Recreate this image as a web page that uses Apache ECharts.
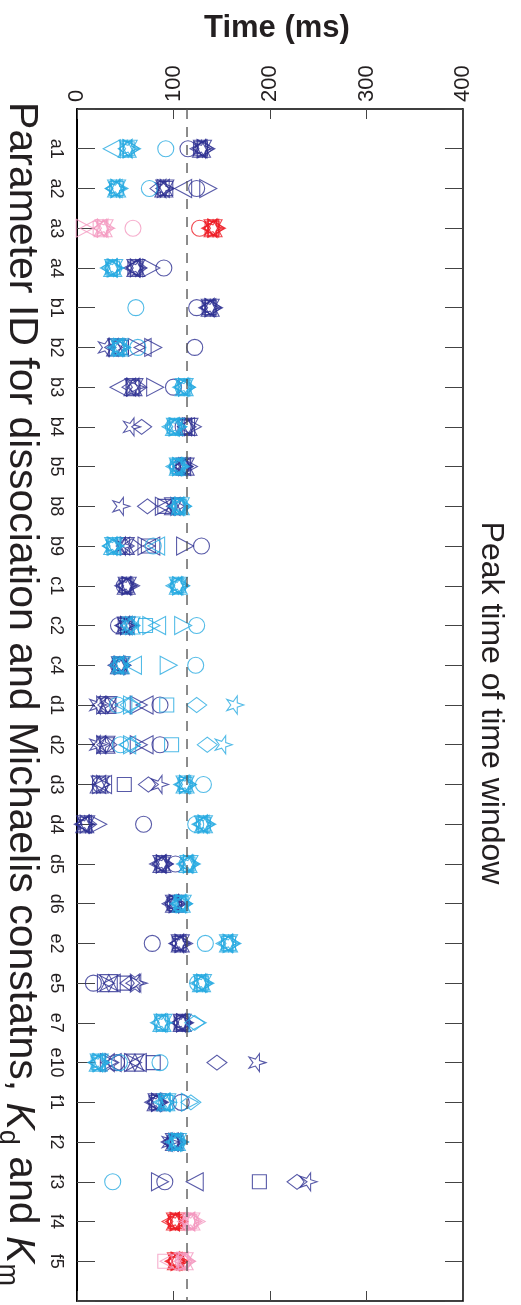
<!DOCTYPE html>
<html>
<head>
<meta charset="utf-8">
<script src="https://cdn.jsdelivr.net/npm/echarts@6/dist/echarts.min.js"></script>
<style>
  html, body { margin: 0; padding: 0; background: #fff; }
  #chart { width: 521px; height: 1305px; }
</style>
</head>
<body>
<div id="chart"></div>
<script>
// Parameter IDs, drawn top to bottom
const categories = ['a1','a2','a3','a4','b1','b2','b3','b4','b5','b8','b9','c1','c2','c4',
  'd1','d2','d3','d4','d5','d6','e2','e5','e7','e10','f1','f2','f3','f4','f5'];
const timeTicks = [0, 100, 200, 300, 400];
const thresholdMs = 114;            // reference peak time (dashed line)
const accentRows = ['a3', 'f4', 'f5'];  // rows drawn in red / pink

// Peak times (ms) per marker shape; null = no marker, list = several markers in the row
const darkCircle   = [115,124,127,90,124,122,100,110,108,104,129,49,43,43,86,86,24,69,102,100,78,17,109,41,108,100,91,102,103];
const darkSquare   = [128,92,140,60,137,46,58,112,110,91,74,51,50,44,33,31,49,8,88,101,106,49,108,79,82,101,189,102,103];
const darkDiamond  = [131,86,142,62,139,42,62,67,110,73,57,52,51,45,32,31,74,10,89,102,107,55,109,145,83,99,228,103,104];
const darkTriRight = [134,[92,136],145,77,142,[62,79],81,120,116,90,[72,112],56,54,47,64,64,25,22,91,105,111,30,112,[33,58],86,106,86,106,107];
const darkTriLeft  = [126,110,138,57,135,68,43,113,109,93,77,48,48,41,70,70,27,6,84,97,104,36,106,[37,63],79,96,122,97,100];
const darkTriUp    = [129,90,141,61,138,40,58,115,112,100,50,51,50,44,31,30,23,8,88,101,107,33,109,60,82,101,null,102,103];
const darkTriDown  = [130,91,141,61,138,41,59,116,112,100,50,52,51,45,32,30,24,9,88,101,107,33,109,60,83,101,null,102,103];
const darkStar5    = [131,90,143,63,140,31,62,57,111,46,48,53,52,46,22,22,86,10,90,103,108,64,110,187,84,97,240,104,104];
const darkStar6    = [129,91,140,60,137,38,56,114,110,102,50,51,50,44,25,25,25,8,87,100,106,60,108,34,82,100,null,101,102];

const lightCircle   = [92,75,58,38,61,63,110,100,104,107,79,105,124,123,42,45,131,123,114,107,133,125,88,[44,86],95,104,37,118,110];
const lightSquare   = [52,41,24,37,null,44,111,101,104,106,38,105,71,45,93,98,112,131,115,108,157,129,88,22,92,103,null,117,91];
const lightDiamond  = [54,40,28,36,null,45,112,103,105,108,37,106,55,44,[55,124],[55,135],113,132,116,109,158,130,122,23,118,104,null,119,112];
const lightTriRight = [57,44,8,40,null,47,114,105,108,110,40,108,[77,110],95,57,57,115,135,119,111,161,133,125,25,117,107,null,124,114];
const lightTriLeft  = [36,38,12,33,null,40,108,97,101,103,[35,82],101,83,58,48,52,109,128,112,105,153,126,85,20,88,100,null,113,95];
const lightTriUp    = [52,41,27,37,null,44,111,101,105,107,37,105,56,45,null,null,112,131,115,108,157,129,88,22,92,103,null,118,111];
const lightTriDown  = [53,41,28,38,null,44,111,102,105,107,38,105,56,46,null,null,112,131,116,109,157,130,89,23,93,104,null,118,111];
const lightStar5    = [55,42,30,39,null,45,113,104,106,108,39,106,55,46,164,152,114,133,117,110,159,131,90,24,94,105,null,120,113];
const lightStar6    = [52,40,26,37,null,43,110,100,104,106,37,104,55,44,null,null,111,130,115,108,156,129,87,22,91,103,null,117,110];

const FONT = '"Liberation Sans", Arial, Helvetica, sans-serif';
const TEXT = '#231f20';

// star outline pointing right, in a 100x100 box
function starPath(points, innerRatio) {
  const pts = [];
  for (let k = 0; k < points * 2; k++) {
    const a = k * Math.PI / points;
    const r = k % 2 === 0 ? 50 : 50 * innerRatio;
    pts.push((50 + r * Math.cos(a)).toFixed(2) + ',' + (50 + r * Math.sin(a)).toFixed(2));
  }
  return 'path://M' + pts.join('L') + 'Z';
}

const shapes = {
  circle:   { symbol: 'circle', size: 16 },
  square:   { symbol: 'rect', size: 14 },
  diamond:  { symbol: 'path://M0,50L50,0L100,50L50,100Z', size: [20, 15] },
  triRight: { symbol: 'path://M0,0L100,50L0,100Z', size: [17, 18] },
  triLeft:  { symbol: 'path://M100,0L0,50L100,100Z', size: [17, 18] },
  triUp:    { symbol: 'path://M50,0L100,100L0,100Z', size: [18, 17] },
  triDown:  { symbol: 'path://M0,0L100,0L50,100Z', size: [18, 17] },
  star5:    { symbol: starPath(5, 0.382), size: [17, 18] },
  star6:    { symbol: starPath(6, 0.55), size: [18, 18] }
};

const groups = [
  { base: '#2e3192', accent: '#ed1c24', sets: {
      circle: darkCircle, square: darkSquare, diamond: darkDiamond, triRight: darkTriRight,
      triLeft: darkTriLeft, triUp: darkTriUp, triDown: darkTriDown, star5: darkStar5, star6: darkStar6 } },
  { base: '#27aae1', accent: '#f49ac1', sets: {
      circle: lightCircle, square: lightSquare, diamond: lightDiamond, triRight: lightTriRight,
      triLeft: lightTriLeft, triUp: lightTriUp, triDown: lightTriDown, star5: lightStar5, star6: lightStar6 } }
];

const series = [];
groups.forEach(g => {
  Object.keys(shapes).forEach(key => {
    const data = [];
    g.sets[key].forEach((v, i) => {
      if (v == null) return;
      const color = accentRows.includes(categories[i]) ? g.accent : g.base;
      [].concat(v).forEach(x => data.push({ value: [x, i + 1], itemStyle: { borderColor: color } }));
    });
    series.push({
      type: 'scatter',
      symbol: shapes[key].symbol,
      symbolSize: shapes[key].size,
      itemStyle: { color: 'rgba(0,0,0,0)', borderWidth: 1.1 },
      emphasis: { disabled: true },
      silent: true,
      z: 3,
      data
    });
  });
});

// dashed reference line
series.push({
  type: 'line',
  data: [[thresholdMs, 0], [thresholdMs, categories.length + 1]],
  symbol: 'none',
  silent: true,
  z: 4,
  lineStyle: { color: '#4d4d4d', width: 1.3, type: [10, 8] }
});

const rowCount = categories.length + 1;
const valueAxisBase = {
  type: 'value', min: timeTicks[0], max: timeTicks[timeTicks.length - 1],
  interval: timeTicks[1] - timeTicks[0],
  splitLine: { show: false },
  axisLine: { show: true, onZero: false, lineStyle: { color: '#000', width: 1.5 } },
  axisTick: { show: true, inside: true, length: 10, lineStyle: { color: '#444', width: 1 } }
};
const rowAxisBase = {
  type: 'value', min: 0, max: rowCount, interval: 1, inverse: true,
  splitLine: { show: false },
  axisLine: { show: true, onZero: false, lineStyle: { color: '#000', width: 2 } },
  axisTick: { show: true, inside: true, length: 18, lineStyle: { color: '#444', width: 1 } }
};

const chart = echarts.init(document.getElementById('chart'), null, { renderer: 'canvas' });
chart.setOption({
  animation: false,
  backgroundColor: '#fff',
  grid: { left: 77, top: 109, width: 386, height: 1192 },
  xAxis: [
    Object.assign({}, valueAxisBase, {
      position: 'top',
      axisLabel: { rotate: -90, fontSize: 22, color: TEXT, fontFamily: FONT, margin: 7,
        padding: [6, 0, 0, 0],
        formatter: v => timeTicks.includes(v) ? String(v) : '' }
    }),
    Object.assign({}, valueAxisBase, { position: 'bottom', axisLabel: { show: false } })
  ],
  yAxis: [
    Object.assign({}, rowAxisBase, {
      position: 'left',
      axisLabel: { rotate: -90, fontSize: 18, color: TEXT, fontFamily: FONT, margin: 12,
        formatter: v => categories[v - 1] || '' }
    }),
    Object.assign({}, rowAxisBase, { position: 'right', axisLabel: { show: false },
      axisLine: { show: true, onZero: false, lineStyle: { color: '#000', width: 1.5 } } })
  ],
  series,
  graphic: [
    { type: 'text', x: 277, y: 28, silent: true,
      style: { text: 'Time (ms)', fill: TEXT, font: 'bold 31px ' + FONT, align: 'center', verticalAlign: 'middle' } },
    { type: 'text', x: 491, y: 703, rotation: -Math.PI / 2, silent: true,
      style: { text: 'Peak time of time window', fill: TEXT, font: '32px ' + FONT, align: 'center', verticalAlign: 'middle' } },
    { type: 'text', x: 21, y: 694, rotation: -Math.PI / 2, silent: true,
      style: {
        text: 'Parameter ID for dissociation and Michaelis constatns, {k|K}{s|d} and {k|K}{s|m}',
        fill: TEXT, font: '41px ' + FONT, align: 'center', verticalAlign: 'middle',
        rich: {
          k: { fontSize: 41, fontStyle: 'italic', fontFamily: FONT, fill: TEXT, lineHeight: 46, verticalAlign: 'bottom' },
          s: { fontSize: 27, fontFamily: FONT, fill: TEXT, lineHeight: 40, verticalAlign: 'bottom', padding: [0, 0, -4, 0] }
        }
      } }
  ]
});
</script>
</body>
</html>
